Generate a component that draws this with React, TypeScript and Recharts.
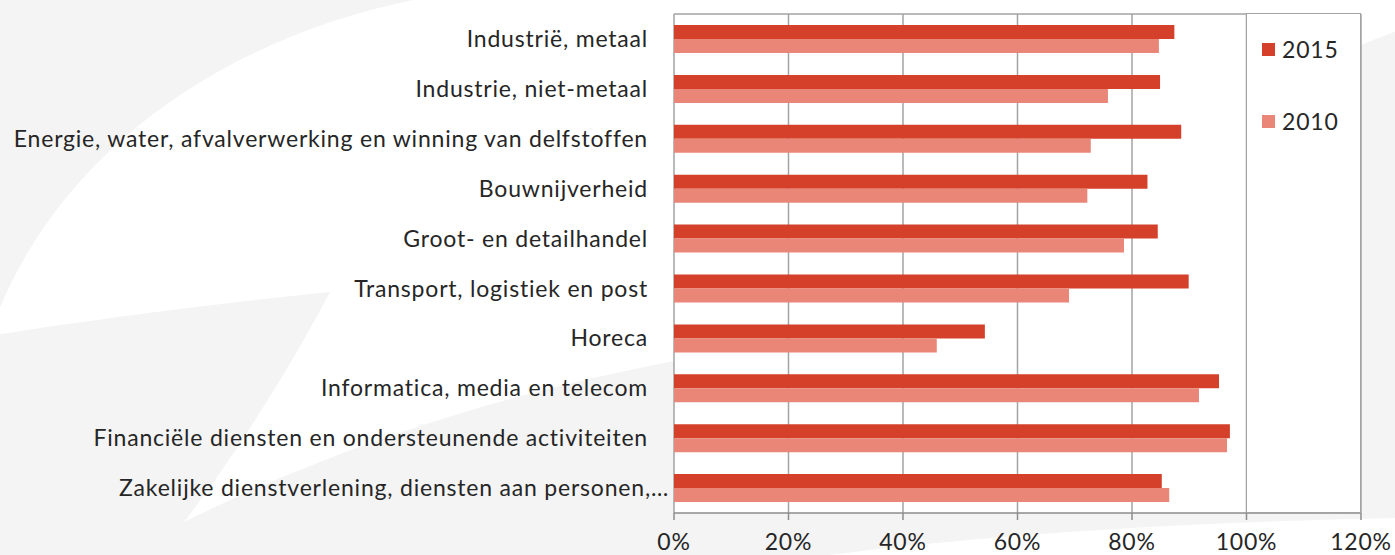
import React from 'react';
import { BarChart, Bar, XAxis, YAxis, CartesianGrid } from 'recharts';

const categories = [
  'Industrië, metaal',
  'Industrie, niet-metaal',
  'Energie, water, afvalverwerking en winning van delfstoffen',
  'Bouwnijverheid',
  'Groot- en detailhandel',
  'Transport, logistiek en post',
  'Horeca',
  'Informatica, media en telecom',
  'Financiële diensten en ondersteunende activiteiten',
  'Zakelijke dienstverlening, diensten aan personen,…',
];
const values2015 = [87.4, 84.9, 88.6, 82.7, 84.5, 89.9, 54.3, 95.2, 97.1, 85.2];
const values2010 = [84.7, 75.8, 72.8, 72.2, 78.6, 69.0, 45.9, 91.7, 96.6, 86.5];
const xTicks = [0, 20, 40, 60, 80, 100, 120];
const boundaryTicks = [0, 1, 2, 3, 4, 5, 6, 7, 8, 9, 10];
const seriesNames = ['2015', '2010'];
const seriesColors = ['#D5402A', '#E98677'];

const FONT = 'Lato, "Open Sans", "DejaVu Sans", sans-serif';
const TEXT = '#262626';
const FS = 23;
const LS = 0.8;

const data = categories.map((c, i) => ({
  name: c,
  y2015: values2015[i],
  y2010: values2010[i],
}));

const CategoryTick = (props: any) => {
  const { x, y, payload } = props;
  const label: string = String(payload.value);
  const truncated = label.endsWith('…');
  return (
    <text
      x={x + (truncated ? 21 : 0)}
      y={y}
      dy="0.35em"
      textAnchor="end"
      fill={TEXT}
      fontSize={FS}
      fontFamily={FONT}
      letterSpacing={LS}
    >
      {label}
    </text>
  );
};

export default function App() {
  return (
    <div
      style={{
        position: 'absolute',
        left: 0,
        top: 0,
        width: 1395,
        height: 555,
        overflow: 'hidden',
        background: '#f4f4f4',
        fontFamily: FONT,
      }}
    >
      <svg width={1395} height={555} style={{ position: 'absolute', left: 0, top: 0 }}>
        <path
          d="M 1400 -5 L 440 -5 C 230 30 60 150 -5 320 L -5 335 C 120 315 250 300 330 292 C 300 350 240 450 184 522 C 350 440 520 390 680 360 C 900 300 1200 100 1400 30 Z"
          fill="#ffffff"
        />
        <path d="M 790 560 C 1000 532 1200 522 1400 518 L 1400 560 Z" fill="#ffffff" />
      </svg>
      <div style={{ position: 'absolute', left: 0, top: 0 }}>
        <BarChart
          width={1395}
          height={555}
          data={data}
          layout="vertical"
          margin={{ top: 14, right: 34, bottom: 0, left: 0 }}
          barGap={0}
          barSize={14}
        >
          <CartesianGrid
            fill="#ffffff"
            stroke="#a3a3a3"
            strokeWidth={1.5}
            vertical={true}
            horizontal={true}
            horizontalCoordinatesGenerator={({ offset }: any) => [offset.top]}
          />
          <YAxis
            yAxisId="b"
            type="number"
            domain={[0, 10]}
            ticks={boundaryTicks}
            reversed
            width={0}
            orientation="left"
            tickSize={6}
            tickFormatter={() => ''}
            axisLine={{ stroke: '#8c8c8c', strokeWidth: 1.5 }}
            tickLine={{ stroke: '#8c8c8c', strokeWidth: 1.5 }}
            allowDataOverflow
          />
          <YAxis
            yAxisId="c"
            type="category"
            dataKey="name"
            width={674}
            axisLine={false}
            tickLine={false}
            tickSize={0}
            tickMargin={26}
            interval={0}
            tick={<CategoryTick />}
          />
          <XAxis
            type="number"
            domain={[0, 120]}
            ticks={xTicks}
            height={42}
            tickFormatter={(v: number) => `${v}%`}
            tickSize={7}
            tickMargin={14}
            axisLine={{ stroke: '#8c8c8c', strokeWidth: 1.5 }}
            tickLine={{ stroke: '#8c8c8c', strokeWidth: 1.5 }}
            tick={{ fill: TEXT, fontSize: FS, fontFamily: FONT, letterSpacing: LS } as any}
          />
          <Bar yAxisId="c" dataKey="y2015" name={seriesNames[0]} fill={seriesColors[0]} isAnimationActive={false} />
          <Bar yAxisId="c" dataKey="y2010" name={seriesNames[1]} fill={seriesColors[1]} isAnimationActive={false} />
        </BarChart>
      </div>
      <div
        style={{
          position: 'absolute',
          left: 1246,
          top: 13,
          width: 115,
          height: 500,
          background: '#ffffff',
          border: '1.5px solid #a3a3a3',
          boxSizing: 'border-box',
        }}
      >
        {seriesNames.map((n, i) => (
          <div
            key={n}
            style={{
              position: 'absolute',
              left: 15,
              top: 21 + i * 72,
              display: 'flex',
              alignItems: 'center',
              fontSize: FS,
              letterSpacing: LS,
              color: TEXT,
              fontFamily: FONT,
            }}
          >
            <span style={{ display: 'inline-block', width: 13, height: 13, background: seriesColors[i], marginRight: 7 }} />
            <span>{n}</span>
          </div>
        ))}
      </div>
    </div>
  );
}
